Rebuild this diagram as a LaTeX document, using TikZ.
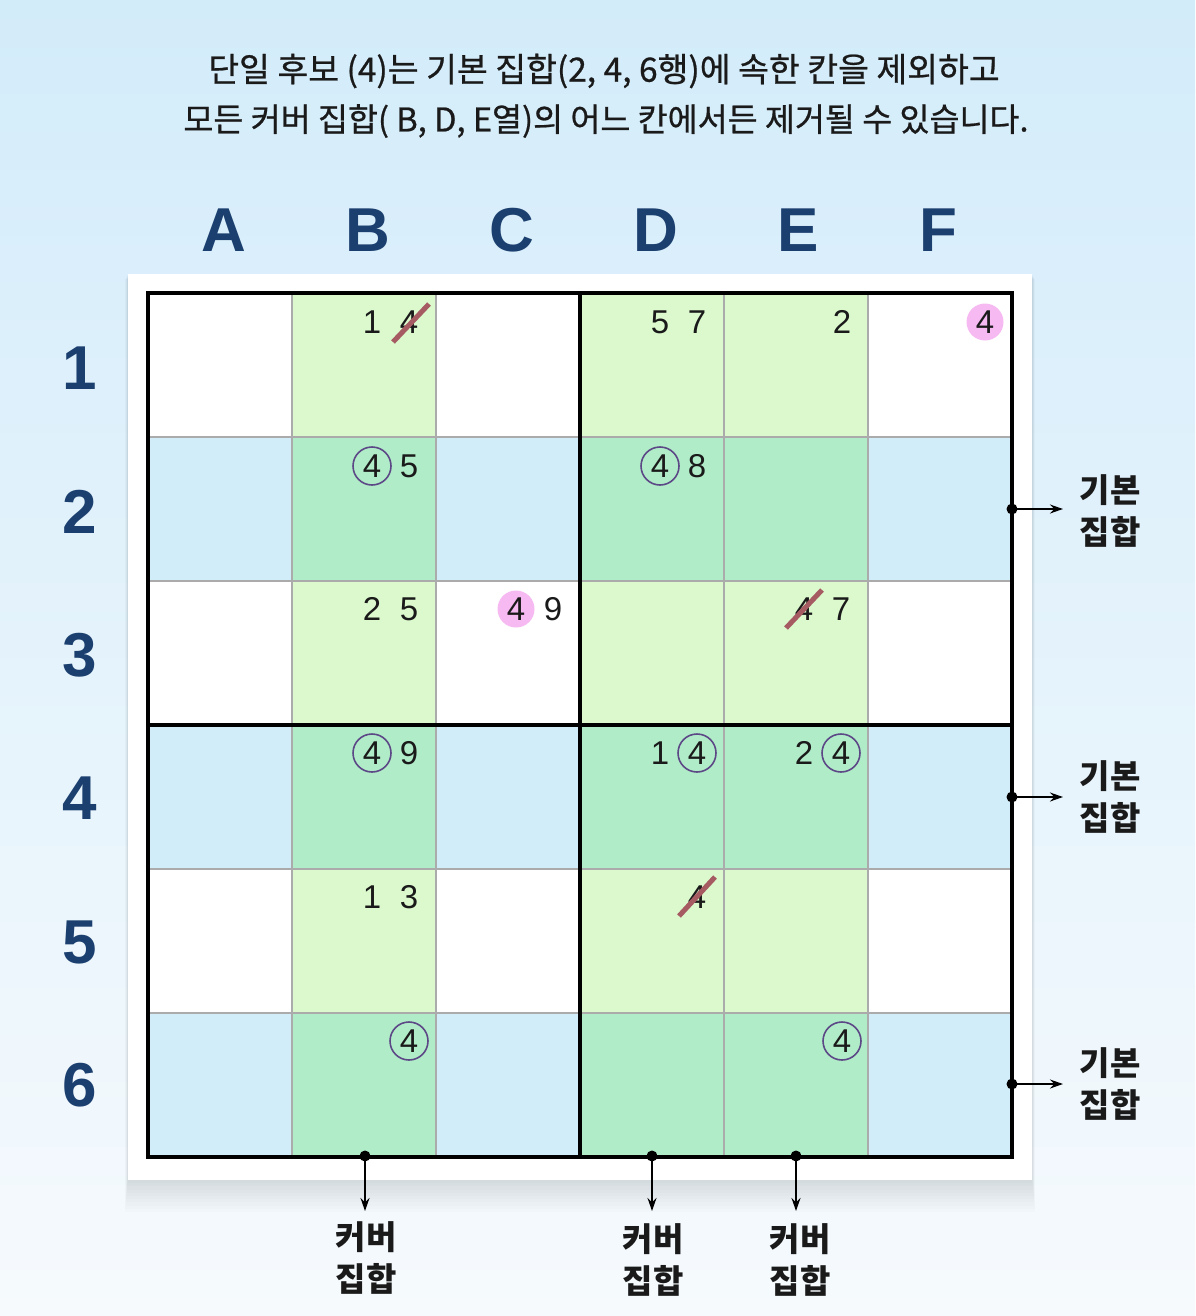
\documentclass[tikz,border=0pt]{standalone}
\usepackage{fontspec}
\setmainfont{Liberation Sans}
\newfontfamily\kr{Noto Sans CJK KR}
\newfontfamily\krmed[FakeBold=0.7]{Noto Sans CJK KR}
\usetikzlibrary{arrows.meta,calc}
\definecolor{bgtop}{HTML}{D3ECFA}
\definecolor{bgbot}{HTML}{F6FAFD}
\definecolor{baseblue}{HTML}{D0EDF9}
\definecolor{covergreen}{HTML}{DBF9CD}
\definecolor{bothgreen}{HTML}{B1ECC9}
\definecolor{gridgray}{HTML}{ABABAB}
\definecolor{labelblue}{HTML}{1B3F6E}
\definecolor{strikered}{HTML}{A65B62}
\definecolor{pinkhl}{HTML}{F6B9F2}
\definecolor{ringpurple}{HTML}{5C4886}
\definecolor{ink}{HTML}{1A1A1A}
\tikzset{
  cand/.style={inner sep=0pt, font=\fontsize{33}{33}\selectfont, text=ink},
  ringed/.style={cand, circle, draw=ringpurple, line width=1.6pt, minimum size=38pt},
  strikeline/.style={draw=strikered, line width=5pt},
  pinkdot/.style={fill=pinkhl},
  collabel/.style={font=\fontsize{62}{62}\selectfont\bfseries, text=labelblue, inner sep=0pt},
  setlabel/.style={font=\kr\bfseries\fontsize{33}{42}\selectfont, text=ink, align=center, inner sep=0pt},
  titletext/.style={font=\krmed\fontsize{33.5}{50}\selectfont, text=ink, align=center, inner sep=0pt},
  titletexttwo/.style={titletext, font=\krmed\fontsize{32.6}{50}\selectfont},
  thin grid/.style={draw=gridgray, line width=1.4pt},
  thick grid/.style={draw=black, line width=4.5pt},
  pointer/.style={-{Stealth[length=13pt,width=9pt]}, line width=1.5pt, draw=black},
  dotmark/.style={fill=black}
}
\begin{document}
\begin{tikzpicture}[x=1pt,y=-1pt]
\useasboundingbox (0,0) rectangle (1195,1316);
% background
\shade[top color=bgtop, bottom color=bgbot] (0,0) rectangle (1195,1316);
% shadow under panel
\foreach \k in {1,...,10}{
  \fill[black, opacity=0.012] (128-\k*0.3,274+\k*0.5) rectangle (1032+\k*0.3,1180+\k*3.2);
}
% panel
\fill[white] (128,274) rectangle (1032,1180);
% cell colours
\fill[white] (148,293) rectangle (1012,1157);
\foreach \r in {437,725,1013}{
  \fill[baseblue] (148,\r) rectangle (1012,\r+144);
}
\foreach \c in {292,580,724}{
  \fill[covergreen] (\c,293) rectangle (\c+144,1157);
  \foreach \r in {437,725,1013}{
    \fill[bothgreen] (\c,\r) rectangle (\c+144,\r+144);
  }
}
% thin grid
\foreach \c in {292,436,724,868}{
  \draw[thin grid] (\c,293) -- (\c,1157);
}
\foreach \r in {437,581,869,1013}{
  \draw[thin grid] (148,\r) -- (1012,\r);
}
% thick grid
\draw[thick grid] (580,293) -- (580,1157);
\draw[thick grid] (148,725) -- (1012,725);
\draw[thick grid] (148,293) rectangle (1012,1157);

% title
\node[titletext] (title1) at (604,71) {단일 후보 (4)는 기본 집합(2, 4, 6행)에 속한 칸을 제외하고};
\node[titletexttwo] (title2) at (606,121) {모든 커버 집합( B, D, E열)의 어느 칸에서든 제거될 수 있습니다.};

% column labels
\node[collabel] (colA) at (224,230) {A};
\node[collabel] (colB) at (368,230) {B};
\node[collabel] (colC) at (512,230) {C};
\node[collabel] (colD) at (656,230) {D};
\node[collabel] (colE) at (798,230) {E};
\node[collabel] (colF) at (938,230) {F};
% row labels
\node[collabel] (row1) at (80,368) {1};
\node[collabel] (row2) at (80,512) {2};
\node[collabel] (row3) at (80,655) {3};
\node[collabel] (row4) at (80,798) {4};
\node[collabel] (row5) at (80,942) {5};
\node[collabel] (row6) at (80,1085) {6};

% pink highlights
\fill[pinkdot] (985,322) circle (18.5pt);
\fill[pinkdot] (516,609) circle (18.5pt);

% candidates
% row 1
\node[cand] (b1a) at (372,322) {1};
\node[cand] (b1b) at (409,322) {4};
\node[cand] (d1a) at (660,322) {5};
\node[cand] (d1b) at (697,322) {7};
\node[cand] (e1a) at (842,322) {2};
\node[cand] (f1a) at (985,322) {4};
% row 2
\node[ringed] (b2a) at (372,466) {4};
\node[cand] (b2b) at (409,466) {5};
\node[ringed] (d2a) at (660,466) {4};
\node[cand] (d2b) at (697,466) {8};
% row 3
\node[cand] (b3a) at (372,609) {2};
\node[cand] (b3b) at (409,609) {5};
\node[cand] (c3a) at (516,609) {4};
\node[cand] (c3b) at (553,609) {9};
\node[cand] (e3a) at (804,609) {4};
\node[cand] (e3b) at (841,609) {7};
% row 4
\node[ringed] (b4a) at (372,753) {4};
\node[cand] (b4b) at (409,753) {9};
\node[cand] (d4a) at (660,753) {1};
\node[ringed] (d4b) at (697,753) {4};
\node[cand] (e4a) at (804,753) {2};
\node[ringed] (e4b) at (841,753) {4};
% row 5
\node[cand] (b5a) at (372,897) {1};
\node[cand] (b5b) at (409,897) {3};
\node[cand] (d5a) at (697,897) {4};
% row 6
\node[ringed] (b6a) at (409,1041) {4};
\node[ringed] (e6a) at (842,1041) {4};

% strike-outs
\draw[strikeline] ($(b1b)+(-16,20)$) -- ($(b1b)+(20,-18)$);
\draw[strikeline] ($(e3a)+(-18,19)$) -- ($(e3a)+(18,-19)$);
\draw[strikeline] ($(d5a)+(-18,19)$) -- ($(d5a)+(18,-20)$);

% base-set pointers (right)
\coordinate (bs2) at (1012,509);
\coordinate (bs4) at (1012,797);
\coordinate (bs6) at (1012,1084);
\coordinate (bs2e) at (1063,509);
\coordinate (bs4e) at (1063,797);
\coordinate (bs6e) at (1063,1084);
\foreach \p in {bs2,bs4,bs6}{\fill[dotmark] (\p) circle (5.5pt);}
\draw[pointer] (bs2) -- (bs2e);
\draw[pointer] (bs4) -- (bs4e);
\draw[pointer] (bs6) -- (bs6e);
\node[setlabel] (base2) at (1110,511) {기본\\집합};
\node[setlabel] (base4) at (1110,797) {기본\\집합};
\node[setlabel] (base6) at (1110,1084) {기본\\집합};

% cover-set pointers (bottom)
\coordinate (csB) at (365,1156);
\coordinate (csD) at (652,1156);
\coordinate (csE) at (796,1156);
\coordinate (csBe) at (365,1211);
\coordinate (csDe) at (652,1211);
\coordinate (csEe) at (796,1211);
\foreach \p in {csB,csD,csE}{\fill[dotmark] (\p) circle (5.5pt);}
\draw[pointer] (csB) -- (csBe);
\draw[pointer] (csD) -- (csDe);
\draw[pointer] (csE) -- (csEe);
\node[setlabel] (coverB) at (366,1258) {커버\\집합};
\node[setlabel] (coverD) at (653,1260) {커버\\집합};
\node[setlabel] (coverE) at (800,1260) {커버\\집합};
\end{tikzpicture}
\end{document}
